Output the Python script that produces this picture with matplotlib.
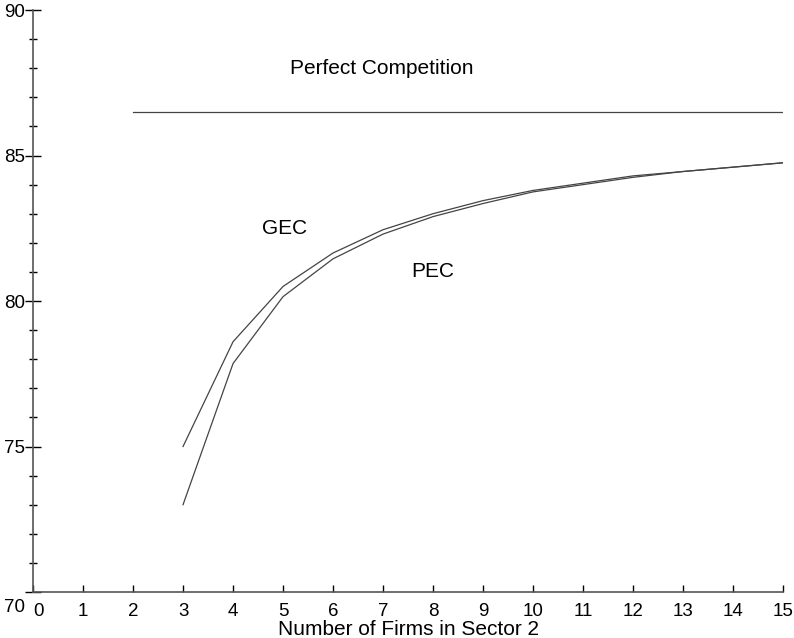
import numpy as np
import matplotlib.pyplot as plt
from matplotlib.ticker import MultipleLocator
import matplotlib.transforms as mtransforms

plt.rcParams['font.family'] = ['Liberation Sans', 'DejaVu Sans']

firms = [3, 4, 5, 6, 7, 8, 9, 10, 11, 12, 13, 14, 15]
gec = [75.0, 78.6, 80.5, 81.65, 82.45, 83.0, 83.45, 83.8, 84.05, 84.3, 84.45, 84.6, 84.75]
pec = [73.0, 77.85, 80.15, 81.45, 82.3, 82.9, 83.35, 83.75, 84.0, 84.25, 84.45, 84.6, 84.75]
perfect_x = [2, 15]
perfect_y = [86.5, 86.5]

fig = plt.figure(figsize=(7.94, 6.38), dpi=100)
ax = fig.add_axes([0.0416, 0.0721, 0.9446, 0.9122])

lc = '#444444'
ax.plot(firms, gec, color=lc, lw=0.9)
ax.plot(firms, pec, color=lc, lw=0.9)
ax.plot(perfect_x, perfect_y, color=lc, lw=0.9)

ax.text(5.14, 88.0, "Perfect Competition", fontsize=15, va='center')
ax.text(4.58, 82.5, "GEC", fontsize=15, va='center')
ax.text(7.56, 81.0, "PEC", fontsize=15, va='center')

ax.set_xlim(0, 15)
ax.set_ylim(70, 90)
ax.set_xticks(range(0, 16))
ax.set_yticks([70, 75, 80, 85, 90])
ax.yaxis.set_minor_locator(MultipleLocator(1))

for s in ['top', 'right']:
    ax.spines[s].set_visible(False)
for s in ['left', 'bottom']:
    ax.spines[s].set_color('#555555')
    ax.spines[s].set_linewidth(1.2)

ax.tick_params(axis='x', direction='in', length=5, width=1, labelsize=13.5, pad=8)
ax.tick_params(axis='y', which='major', direction='inout', length=11, width=1, labelsize=13.5, pad=0)
ax.tick_params(axis='y', which='minor', direction='inout', length=6, width=1)

ax.set_xlabel("Number of Firms in Sector 2", fontsize=15, labelpad=0)

fig.canvas.draw()
# nudge the corner labels so "70" and "0" do not collide
for lab in ax.get_xticklabels():
    if lab.get_text() == '0':
        lab.set_transform(lab.get_transform() + mtransforms.ScaledTranslation(5/100, 0, fig.dpi_scale_trans))
for lab in ax.get_yticklabels():
    if lab.get_text() == '70':
        lab.set_transform(lab.get_transform() + mtransforms.ScaledTranslation(0, -13/100, fig.dpi_scale_trans))

fig.savefig("out.png", dpi=100)
